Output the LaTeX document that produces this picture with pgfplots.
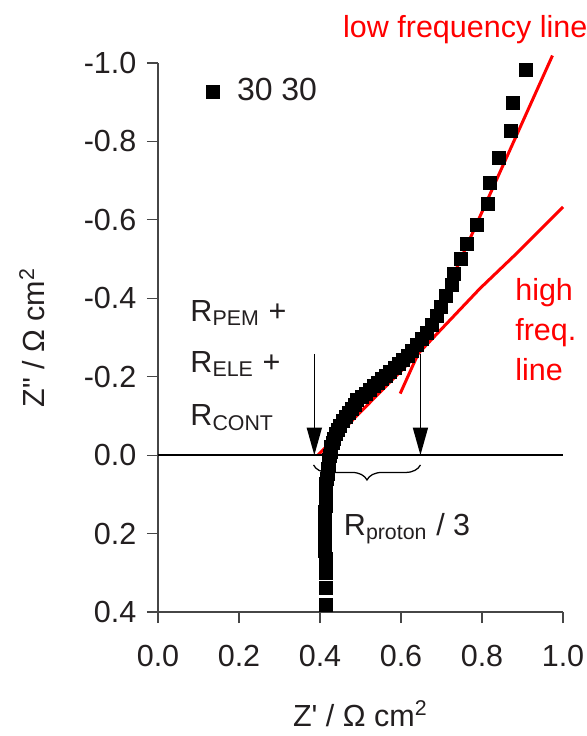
\documentclass[border=0pt]{standalone}
\usepackage{fontspec}
\setmainfont{Liberation Sans}[Ligatures=TeXOff]
\usepackage{pgfplots}
\pgfplotsset{compat=1.18}
\usetikzlibrary{arrows.meta,decorations.pathreplacing,calc}

\definecolor{txtgray}{RGB}{35,31,32}
\definecolor{axgray}{RGB}{70,70,70}
\definecolor{fitred}{RGB}{255,0,0}

\begin{document}
\fontsize{12.2}{14.6}\selectfont
\begin{tikzpicture}
\begin{axis}[
    scale only axis, width=162pt, height=219.6pt,
    xmin=0, xmax=1, ymin=-1, ymax=0.4, y dir=reverse,
    axis x line*=bottom, axis y line*=left,
    axis line style={axgray, line width=0.5pt},
    tick align=outside, major tick length=4.4pt,
    tick style={axgray, line width=0.5pt},
    xtick={0,0.2,0.4,0.6,0.8,1},
    ytick={-1,-0.8,-0.6,-0.4,-0.2,0,0.2,0.4},
    /pgf/number format/.cd, fixed, fixed zerofill, precision=1, assume math mode=true,
    /pgfplots/.cd,
    ticklabel style={txtgray},
    xticklabel style={yshift=-4.8pt},
    xlabel={Z' / Ω cm\textsuperscript{2}},
    ylabel={Z" / Ω cm\textsuperscript{2}},
    xlabel style={txtgray, at={(axis description cs:0.5,-0.2077)}, anchor=base},
    ylabel style={txtgray, at={(axis description cs:-0.279,0.5)}, anchor=base},
    clip=false,
    legend style={draw=none, fill=none, text=txtgray, font=\fontsize{12.8}{15}\selectfont,
      at={(axis description cs:0.1,0.947)}, anchor=west,
      /tikz/column 1/.style={column sep=5pt}},
    legend cell align=left,
  ]
  % measured impedance spectrum
  \addplot[only marks, mark=square*, mark size=2.6pt, black] coordinates {
    (0.908,-0.982) (0.876,-0.897) (0.871,-0.827) (0.841,-0.758)
    (0.820,-0.693) (0.815,-0.640) (0.788,-0.586) (0.762,-0.538)
    (0.747,-0.500) (0.731,-0.463) (0.725,-0.434) (0.712,-0.405)
    (0.698,-0.378) (0.688,-0.355) (0.676,-0.333) (0.664,-0.312)
    (0.652,-0.295) (0.640,-0.280) (0.628,-0.266) (0.617,-0.254)
    (0.606,-0.243) (0.595,-0.232) (0.584,-0.222) (0.573,-0.212)
    (0.563,-0.203) (0.553,-0.194) (0.543,-0.185) (0.533,-0.176)
    (0.523,-0.167) (0.513,-0.157) (0.504,-0.148) (0.491,-0.140)
    (0.487,-0.128) (0.479,-0.118) (0.471,-0.108) (0.464,-0.097)
    (0.457,-0.086) (0.450,-0.075) (0.444,-0.064) (0.439,-0.053)
    (0.435,-0.042) (0.431,-0.031) (0.428,-0.020) (0.426,-0.009)
    (0.424,0.002) (0.422,0.013) (0.421,0.024) (0.420,0.036)
    (0.419,0.048) (0.418,0.060) (0.416,0.073) (0.415,0.086)
    (0.414,0.100) (0.414,0.114) (0.415,0.130) (0.413,0.146)
    (0.412,0.163) (0.412,0.181) (0.412,0.200) (0.413,0.222)
    (0.413,0.245) (0.414,0.265) (0.414,0.300) (0.414,0.340)
    (0.415,0.383)};
  \addlegendentry{30 30}
  % fitted lines
  \addplot[fitred, line width=1.2pt, forget plot] coordinates {
    (0.395,0.0) (0.647,-0.264) (0.795,-0.425) (0.886,-0.515) (1.0,-0.633)};
  \addplot[fitred, line width=1.2pt, forget plot] coordinates {
    (0.598,-0.157) (0.974,-1.019)};

  \draw[black, line width=0.6pt] (axis cs:0,0) -- (axis cs:1,0);
  \draw[black, line width=0.6pt, -{Triangle[length=11pt,width=6pt]}]
    (axis cs:0.386,-0.258) -- (axis cs:0.386,0);
  \draw[black, line width=0.6pt, -{Triangle[length=11pt,width=6pt]}]
    (axis cs:0.648,-0.258) -- (axis cs:0.648,0);
  \draw[black, line width=0.5pt, decorate, decoration={brace, mirror, amplitude=6pt}]
    (axis cs:0.384,0.025) -- (axis cs:0.648,0.025);

  \node[anchor=base west, inner sep=0, fitred] at (axis cs:0.456,-1.066) {low frequency line};
  \node[anchor=base west, inner sep=0, fitred] at (axis cs:0.881,-0.395) {high};
  \node[anchor=base west, inner sep=0, fitred] at (axis cs:0.881,-0.293) {freq.};
  \node[anchor=base west, inner sep=0, fitred] at (axis cs:0.881,-0.191) {line};

  \node[anchor=base west, inner sep=0, txtgray] at (axis cs:0.079,-0.342) {R\textsubscript{PEM} +};
  \node[anchor=base west, inner sep=0, txtgray] at (axis cs:0.079,-0.212) {R\textsubscript{ELE} +};
  \node[anchor=base west, inner sep=0, txtgray] at (axis cs:0.079,-0.075) {R\textsubscript{CONT}};
  \node[anchor=base west, inner sep=0, txtgray] at (axis cs:0.458,0.204) {R\textsubscript{proton} / 3};
\end{axis}
\pgfresetboundingbox
\path[use as bounding box] ($(current axis.south west)+(-63.2pt,-49.6pt)$)
  rectangle ($(current axis.north east)+(9.6pt,25.2pt)$);
\end{tikzpicture}
\end{document}
